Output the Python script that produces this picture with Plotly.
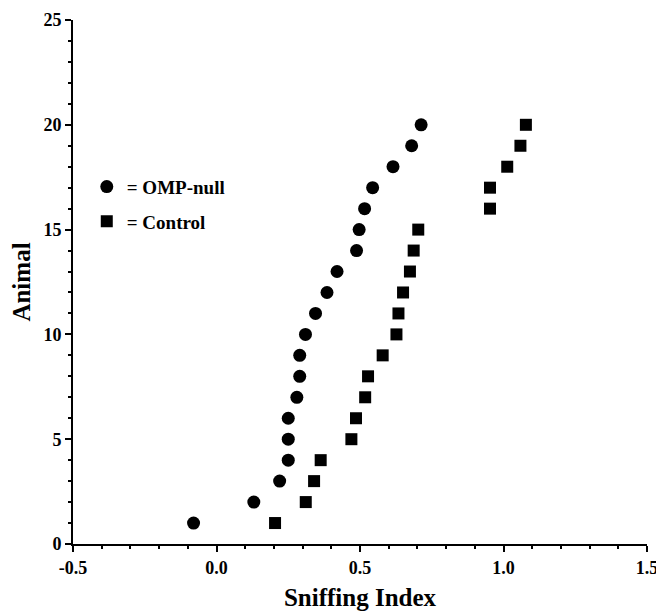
import plotly.graph_objects as go

animal = list(range(1, 21))
omp_null = [-0.08, 0.13, 0.22, 0.25, 0.25, 0.25, 0.28, 0.29, 0.29, 0.31,
            0.345, 0.385, 0.42, 0.488, 0.497, 0.516, 0.544, 0.615, 0.68, 0.713]
control = [0.204, 0.311, 0.34, 0.363, 0.47, 0.486, 0.518, 0.528, 0.579, 0.627,
           0.634, 0.65, 0.674, 0.687, 0.703, 0.953, 0.953, 1.013, 1.059, 1.078]

x_ticks = [-0.5, 0.0, 0.5, 1.0, 1.5]
x_ticklabels = ["-0.5", "0.0", "0.5", "1.0", "1.5"]
y_ticks = [0, 5, 10, 15, 20, 25]

FONT = "Liberation Serif"

fig = go.Figure()
fig.add_trace(go.Scatter(x=omp_null, y=animal, mode="markers", name="= OMP-null",
                         legendgroup="a",
                         marker=dict(symbol="circle", size=13, color="black")))
fig.add_trace(go.Scatter(x=control, y=animal, mode="markers", name="= Control",
                         legendgroup="b",
                         marker=dict(symbol="square", size=12, color="black")))

fig.update_layout(
    width=656, height=604,
    margin=dict(l=65, r=17, t=12, b=68),
    paper_bgcolor="white", plot_bgcolor="white",
    font=dict(family=FONT, color="black"),
    showlegend=True,
    legend=dict(x=0.024, y=0.718, xanchor="left", yanchor="top",
                font=dict(family=FONT, size=19, color="black", weight="bold"),
                tracegroupgap=7, bgcolor="rgba(0,0,0,0)"),
)
fig.update_xaxes(
    range=[-0.5, 1.5], tickvals=x_ticks, ticktext=x_ticklabels, automargin=False,
    showgrid=False, zeroline=False, showline=True, linecolor="black", linewidth=2,
    ticks="outside", ticklen=6, tickwidth=2, tickcolor="black",
    minor=dict(dtick=0.1, ticks="outside", ticklen=3, tickwidth=1.5, tickcolor="black"),
    tickfont=dict(family=FONT, size=18, color="black", weight="bold"),
    title=dict(text="Sniffing Index", font=dict(family=FONT, size=25, color="black", weight="bold"),
               standoff=12),
)
fig.update_yaxes(
    range=[0, 25], tickvals=y_ticks, automargin=False,
    showgrid=False, zeroline=False, showline=True, linecolor="black", linewidth=2,
    ticks="outside", ticklen=6, tickwidth=2, tickcolor="black",
    minor=dict(dtick=1, ticks="outside", ticklen=3, tickwidth=1.5, tickcolor="black"),
    tickfont=dict(family=FONT, size=18, color="black", weight="bold"),
    title=dict(text="Animal", font=dict(family=FONT, size=25, color="black", weight="bold"),
               standoff=10),
)

fig.write_html("out.html")
